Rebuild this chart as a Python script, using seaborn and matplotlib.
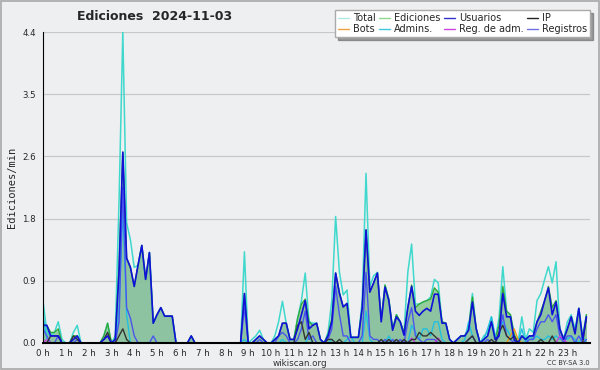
import matplotlib

matplotlib.use("Agg")
import matplotlib.pyplot as plt  # noqa: E402
import numpy as np  # noqa: E402
import pandas as pd  # noqa: E402
import seaborn as sns  # noqa: E402
from matplotlib.patches import Rectangle  # noqa: E402

# 10 minute bins over the day, one row per hour (6 values each)
total = [
    0.60, 0.15, 0.10, 0.15, 0.30, 0.05,
    0.00, 0.00, 0.15, 0.25, 0.00, 0.00,
    0.00, 0.00, 0.00, 0.00, 0.10, 0.28,
    0.00, 0.10, 2.00, 4.40, 1.70, 1.46,
    1.07, 1.10, 1.38, 0.90, 1.28, 0.28,
    0.40, 0.50, 0.38, 0.38, 0.38, 0.00,
    0.00, 0.00, 0.00, 0.10, 0.00, 0.00,
    0.00, 0.00, 0.00, 0.00, 0.00, 0.00,
    0.00, 0.00, 0.00, 0.00, 0.00, 1.29,
    0.00, 0.05, 0.10, 0.18, 0.05, 0.00,
    0.00, 0.10, 0.30, 0.59, 0.28, 0.05,
    0.05, 0.35, 0.60, 0.99, 0.30, 0.28,
    0.28, 0.05, 0.00, 0.15, 0.60, 1.79,
    1.00, 0.68, 0.75, 0.08, 0.08, 0.08,
    0.60, 2.40, 0.80, 0.95, 1.00, 0.33,
    0.82, 0.62, 0.20, 0.40, 0.30, 0.15,
    1.00, 1.40, 0.55, 0.55, 0.58, 0.60,
    0.65, 0.90, 0.85, 0.30, 0.28, 0.05,
    0.00, 0.05, 0.10, 0.10, 0.22, 0.70,
    0.20, 0.00, 0.10, 0.15, 0.37, 0.05,
    0.35, 1.08, 0.45, 0.40, 0.12, 0.00,
    0.37, 0.05, 0.20, 0.15, 0.60, 0.70,
    0.90, 1.08, 0.85, 1.15, 0.20, 0.05,
    0.30, 0.40, 0.20, 0.49, 0.10, 0.40,
]
ediciones = [
    0.25, 0.25, 0.15, 0.15, 0.20, 0.00,
    0.00, 0.00, 0.10, 0.10, 0.00, 0.00,
    0.00, 0.00, 0.00, 0.00, 0.10, 0.28,
    0.00, 0.05, 1.10, 2.70, 1.20, 1.07,
    0.80, 1.10, 1.38, 0.90, 1.28, 0.28,
    0.40, 0.50, 0.38, 0.38, 0.38, 0.00,
    0.00, 0.00, 0.00, 0.10, 0.00, 0.00,
    0.00, 0.00, 0.00, 0.00, 0.00, 0.00,
    0.00, 0.00, 0.00, 0.00, 0.00, 0.70,
    0.00, 0.00, 0.05, 0.10, 0.05, 0.00,
    0.00, 0.05, 0.10, 0.28, 0.28, 0.05,
    0.05, 0.35, 0.55, 0.62, 0.30, 0.25,
    0.28, 0.05, 0.00, 0.12, 0.35, 0.99,
    0.72, 0.51, 0.56, 0.08, 0.08, 0.08,
    0.50, 1.60, 0.72, 0.85, 0.99, 0.33,
    0.82, 0.62, 0.20, 0.40, 0.30, 0.15,
    0.50, 0.82, 0.50, 0.55, 0.58, 0.60,
    0.62, 0.78, 0.72, 0.30, 0.28, 0.05,
    0.00, 0.05, 0.10, 0.10, 0.22, 0.65,
    0.20, 0.00, 0.05, 0.10, 0.32, 0.05,
    0.25, 0.80, 0.45, 0.40, 0.12, 0.00,
    0.10, 0.05, 0.10, 0.10, 0.30, 0.45,
    0.60, 0.80, 0.50, 0.60, 0.20, 0.05,
    0.20, 0.37, 0.13, 0.49, 0.05, 0.40,
]
usuarios = [
    0.25, 0.25, 0.10, 0.10, 0.10, 0.00,
    0.00, 0.00, 0.05, 0.10, 0.00, 0.00,
    0.00, 0.00, 0.00, 0.00, 0.05, 0.10,
    0.00, 0.05, 1.00, 2.70, 1.20, 1.07,
    0.80, 1.10, 1.38, 0.90, 1.28, 0.28,
    0.40, 0.50, 0.38, 0.38, 0.38, 0.00,
    0.00, 0.00, 0.00, 0.10, 0.00, 0.00,
    0.00, 0.00, 0.00, 0.00, 0.00, 0.00,
    0.00, 0.00, 0.00, 0.00, 0.00, 0.70,
    0.00, 0.00, 0.05, 0.10, 0.05, 0.00,
    0.00, 0.05, 0.10, 0.28, 0.28, 0.05,
    0.05, 0.20, 0.40, 0.60, 0.20, 0.25,
    0.28, 0.05, 0.00, 0.10, 0.30, 0.99,
    0.70, 0.51, 0.56, 0.08, 0.08, 0.08,
    0.50, 1.60, 0.72, 0.85, 0.99, 0.30,
    0.79, 0.60, 0.18, 0.37, 0.30, 0.11,
    0.50, 0.80, 0.45, 0.39, 0.45, 0.49,
    0.45, 0.69, 0.69, 0.28, 0.28, 0.05,
    0.00, 0.05, 0.10, 0.10, 0.18, 0.58,
    0.20, 0.00, 0.05, 0.10, 0.30, 0.05,
    0.10, 0.70, 0.37, 0.37, 0.04, 0.00,
    0.10, 0.05, 0.10, 0.10, 0.30, 0.40,
    0.60, 0.78, 0.40, 0.58, 0.20, 0.05,
    0.20, 0.37, 0.13, 0.49, 0.05, 0.37,
]
ip = [
    0.00, 0.00, 0.10, 0.10, 0.10, 0.00,
    0.00, 0.00, 0.10, 0.05, 0.00, 0.00,
    0.00, 0.00, 0.00, 0.00, 0.05, 0.15,
    0.00, 0.00, 0.10, 0.20, 0.05, 0.00,
    0.00, 0.00, 0.00, 0.00, 0.00, 0.00,
    0.00, 0.00, 0.00, 0.00, 0.00, 0.00,
    0.00, 0.00, 0.00, 0.00, 0.00, 0.00,
    0.00, 0.00, 0.00, 0.00, 0.00, 0.00,
    0.00, 0.00, 0.00, 0.00, 0.00, 0.00,
    0.00, 0.00, 0.00, 0.00, 0.00, 0.00,
    0.00, 0.00, 0.00, 0.00, 0.00, 0.00,
    0.00, 0.25, 0.30, 0.05, 0.15, 0.00,
    0.00, 0.00, 0.00, 0.05, 0.05, 0.00,
    0.05, 0.00, 0.00, 0.00, 0.00, 0.00,
    0.00, 0.00, 0.00, 0.00, 0.00, 0.05,
    0.00, 0.05, 0.00, 0.05, 0.00, 0.05,
    0.00, 0.05, 0.05, 0.15, 0.10, 0.10,
    0.15, 0.10, 0.05, 0.00, 0.00, 0.00,
    0.00, 0.00, 0.00, 0.00, 0.05, 0.10,
    0.00, 0.00, 0.00, 0.00, 0.05, 0.00,
    0.15, 0.25, 0.10, 0.05, 0.10, 0.00,
    0.00, 0.00, 0.00, 0.00, 0.00, 0.05,
    0.00, 0.00, 0.10, 0.00, 0.00, 0.00,
    0.00, 0.00, 0.00, 0.00, 0.00, 0.35,
]
admins = [
    0.40, 0.05, 0.00, 0.00, 0.00, 0.00,
    0.00, 0.00, 0.00, 0.00, 0.00, 0.00,
    0.00, 0.00, 0.00, 0.00, 0.00, 0.00,
    0.00, 0.00, 0.50, 1.90, 0.40, 0.00,
    0.00, 0.00, 0.00, 0.00, 0.00, 0.00,
    0.00, 0.00, 0.00, 0.00, 0.00, 0.00,
    0.00, 0.00, 0.00, 0.00, 0.00, 0.00,
    0.00, 0.00, 0.00, 0.00, 0.00, 0.00,
    0.00, 0.00, 0.00, 0.00, 0.00, 0.05,
    0.00, 0.00, 0.00, 0.00, 0.00, 0.00,
    0.00, 0.00, 0.00, 0.05, 0.00, 0.00,
    0.00, 0.00, 0.00, 0.00, 0.10, 0.00,
    0.00, 0.00, 0.00, 0.00, 0.05, 0.00,
    0.00, 0.00, 0.05, 0.10, 0.00, 0.00,
    0.00, 0.45, 0.05, 0.00, 0.00, 0.00,
    0.00, 0.10, 0.00, 0.00, 0.00, 0.00,
    0.00, 0.25, 0.15, 0.05, 0.20, 0.20,
    0.10, 0.30, 0.30, 0.05, 0.00, 0.00,
    0.00, 0.00, 0.00, 0.05, 0.30, 0.10,
    0.00, 0.00, 0.05, 0.20, 0.37, 0.10,
    0.10, 0.30, 0.20, 0.10, 0.10, 0.00,
    0.20, 0.00, 0.10, 0.05, 0.10, 0.05,
    0.05, 0.10, 0.05, 0.10, 0.05, 0.10,
    0.05, 0.10, 0.05, 0.00, 0.10, 0.00,
]
registros = [
    0.20, 0.10, 0.00, 0.00, 0.10, 0.00,
    0.00, 0.00, 0.00, 0.05, 0.00, 0.00,
    0.00, 0.00, 0.00, 0.00, 0.00, 0.00,
    0.00, 0.00, 0.30, 2.20, 0.50, 0.35,
    0.10, 0.00, 0.00, 0.00, 0.00, 0.10,
    0.00, 0.00, 0.00, 0.00, 0.00, 0.00,
    0.00, 0.00, 0.00, 0.00, 0.00, 0.00,
    0.00, 0.00, 0.00, 0.00, 0.00, 0.00,
    0.00, 0.00, 0.00, 0.00, 0.00, 0.50,
    0.00, 0.00, 0.00, 0.05, 0.00, 0.00,
    0.00, 0.00, 0.10, 0.15, 0.10, 0.00,
    0.00, 0.05, 0.20, 0.45, 0.05, 0.10,
    0.00, 0.00, 0.00, 0.05, 0.20, 0.80,
    0.40, 0.10, 0.10, 0.00, 0.00, 0.00,
    0.10, 1.00, 0.10, 0.05, 0.05, 0.00,
    0.05, 0.00, 0.05, 0.00, 0.05, 0.00,
    0.30, 0.50, 0.10, 0.05, 0.00, 0.05,
    0.05, 0.05, 0.00, 0.00, 0.00, 0.00,
    0.00, 0.00, 0.00, 0.00, 0.05, 0.10,
    0.00, 0.00, 0.00, 0.05, 0.00, 0.00,
    0.10, 0.40, 0.10, 0.05, 0.00, 0.00,
    0.00, 0.00, 0.05, 0.05, 0.20, 0.30,
    0.30, 0.40, 0.30, 0.40, 0.10, 0.00,
    0.10, 0.10, 0.00, 0.10, 0.00, 0.05,
]
reg_adm = [0.0] * 144
for idx, val in [(1, 0.05), (97, 0.07), (104, 0.07), (136, 0.10), (137, 0.05)]:
    reg_adm[idx] = val
bots = [0.0] * 144
for idx, val in [(123, 0.10), (124, 0.20), (125, 0.05)]:
    bots[idx] = val

hours = np.arange(144) / 6.0
y_ticks = [0.0, 0.88, 1.76, 2.64, 3.52, 4.4]
y_labels = ["0.0", "0.9", "1.8", "2.6", "3.5", "4.4"]
hour_labels = [f"{h} h" for h in range(24)]

df = pd.DataFrame({
    "hora": hours,
    "Total": total,
    "Ediciones": ediciones,
    "Usuarios": usuarios,
    "IP": ip,
    "Bots": bots,
    "Admins.": admins,
    "Reg. de adm.": reg_adm,
    "Registros": registros,
})

bg = "#eeeff1"
sns.set_style("white")
plt.rcParams["font.family"] = ["DejaVu Sans"]

fig = plt.figure(figsize=(6.0, 3.7), dpi=100, facecolor=bg)
ax = fig.add_axes([0.0717, 0.073, 0.912, 0.8405])
ax.set_facecolor(bg)

ax.fill_between(df["hora"], df["Ediciones"], color="#86c88c", alpha=0.85, lw=0)
ax.fill_between(df["hora"], df["Usuarios"], color="#5a7fc8", alpha=0.12, lw=0)

styles = [
    ("Total", "#3fd8cc", 1.1),
    ("Ediciones", "#2fa83a", 1.0),
    ("Admins.", "#22c0e0", 1.0),
    ("Registros", "#4a55ee", 1.0),
    ("Bots", "#ee9a1a", 1.0),
    ("Reg. de adm.", "#c640e0", 1.0),
    ("IP", "#333333", 1.0),
    ("Usuarios", "#1010d8", 1.2),
]
for name, color, lw in styles:
    sns.lineplot(data=df, x="hora", y=name, color=color, lw=lw, ax=ax)

ax.set_xlim(0, 24)
ax.set_ylim(0, 4.4)
ax.set_yticks(y_ticks)
ax.set_yticklabels(y_labels)
ax.set_yticks(np.arange(0.44, 4.4, 0.88), minor=True)
ax.set_xticks(range(24))
ax.set_xticklabels(hour_labels)
ax.set_xticks(np.arange(0, 24, 1 / 6), minor=True)
ax.tick_params(axis="x", which="major", length=4, width=1, labelsize=6.2, pad=0.5, direction="out")
ax.tick_params(axis="x", which="minor", length=3, width=0.8, direction="out")
ax.tick_params(axis="y", which="major", length=4, width=1, labelsize=6.2, pad=1, direction="out")
ax.tick_params(axis="y", which="minor", length=3, width=0.8, direction="out")
ax.grid(axis="y", color="#c8c8c8", lw=0.9)
ax.set_axisbelow(True)
for side in ("top", "right"):
    ax.spines[side].set_visible(False)
ax.spines["left"].set_color("black")
ax.spines["bottom"].set_color("black")
ax.spines["bottom"].set_linewidth(1.5)
ax.set_xlabel("")
ax.set_ylabel("Ediciones/min", family="DejaVu Sans Mono", fontsize=7.5, labelpad=4)

fig.text(0.258, 0.955, "Ediciones  2024-11-03", ha="center", va="center",
         fontsize=9, fontweight="bold")
fig.text(0.5, 0.018, "wikiscan.org", ha="center", va="center", fontsize=6.3, color="#333333")
fig.text(0.983, 0.02, "CC BY-SA 3.0", ha="right", va="center", fontsize=4.8, color="#333333")

legend_colors = {
    "Total": "#aee8e2", "Bots": "#f0a040", "Ediciones": "#8fd890", "Admins.": "#40c8e0",
    "Usuarios": "#3030d0", "Reg. de adm.": "#cc44dd", "IP": "#222222", "Registros": "#7070e0",
}
handles = [plt.Line2D([], [], color=c, lw=1) for c in legend_colors.values()]
leg = fig.legend(handles, list(legend_colors.keys()), ncol=4, loc="upper right",
                 bbox_to_anchor=(0.983, 0.972), fontsize=7, frameon=True, shadow=True,
                 fancybox=False, handlelength=1.1, handletextpad=0.4, columnspacing=0.4,
                 labelspacing=0.1, borderpad=0.3, borderaxespad=0)
leg.get_frame().set_edgecolor("#aaaaaa")
leg.get_frame().set_facecolor("white")

fig.patches.append(Rectangle((0.001, 0.002), 0.997, 0.995, transform=fig.transFigure,
                             fill=False, edgecolor="#a8a8a8", lw=1.2))

fig.savefig("out.png", dpi=100, facecolor=bg)
plt.close(fig)
